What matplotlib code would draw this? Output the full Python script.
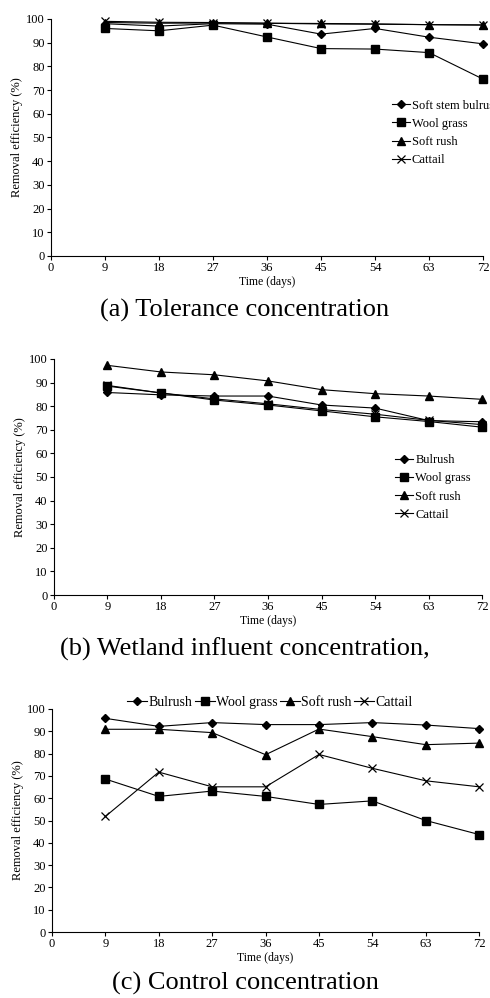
import numpy as np
import matplotlib.pyplot as plt

plt.rcParams['font.family'] = ['Liberation Serif', 'DejaVu Serif']

days = [9, 18, 27, 36, 45, 54, 63, 72]
xticks = [0, 9, 18, 27, 36, 45, 54, 63, 72]

# (a) Tolerance concentration
a_bulrush = [98.0, 97.0, 98.0, 97.8, 93.6, 96.0, 92.3, 89.5]
a_wool = [96.0, 95.0, 97.4, 92.4, 87.5, 87.3, 85.8, 74.6]
a_softrush = [98.5, 98.2, 98.3, 98.2, 98.1, 97.9, 97.6, 97.5]
a_cattail = [99.0, 98.6, 98.5, 98.2, 97.9, 97.8, 97.6, 97.4]

# (b) Wetland influent concentration
b_bulrush = [85.8, 84.8, 84.3, 84.3, 80.5, 79.2, 73.9, 73.4]
b_wool = [88.5, 85.6, 82.6, 80.5, 78.0, 75.5, 73.5, 71.1]
b_softrush = [97.3, 94.5, 93.3, 90.7, 87.0, 85.3, 84.3, 82.9]
b_cattail = [88.8, 85.6, 83.1, 81.0, 78.6, 76.6, 74.0, 72.2]

# (c) Control concentration
c_bulrush = [95.8, 92.2, 93.9, 93.0, 93.0, 93.9, 92.8, 91.2]
c_wool = [68.6, 60.8, 63.2, 60.8, 57.2, 58.8, 50.0, 43.7]
c_softrush = [90.9, 90.9, 89.4, 79.5, 91.0, 87.6, 84.0, 84.7]
c_cattail = [51.8, 71.7, 65.1, 65.1, 79.6, 73.4, 67.8, 65.1]

captions = ['(a) Tolerance concentration',
            '(b) Wetland influent concentration,',
            '(c) Control concentration']
labels_a = ['Soft stem bulrush', 'Wool grass', 'Soft rush', 'Cattail']
labels_bc = ['Bulrush', 'Wool grass', 'Soft rush', 'Cattail']

styles = [dict(marker='D', markersize=4.2),
          dict(marker='s', markersize=6.2),
          dict(marker='^', markersize=5.5),
          dict(marker='x', markersize=6, markeredgewidth=0.9)]

fig = plt.figure(figsize=(4.9, 9.98), dpi=100)

boxes = [[0.104, 0.7435, 0.882, 0.2375],
         [0.110, 0.4038, 0.874, 0.2365],
         [0.106, 0.0661, 0.872, 0.2235]]
data = [[a_bulrush, a_wool, a_softrush, a_cattail],
        [b_bulrush, b_wool, b_softrush, b_cattail],
        [c_bulrush, c_wool, c_softrush, c_cattail]]
cap_y = [0.6894, 0.3497, 0.0145]

for k in range(3):
    ax = fig.add_axes(boxes[k])
    labels = labels_a if k == 0 else labels_bc
    for series, st, lab in zip(data[k], styles, labels):
        ax.plot(days, series, color='black', linewidth=0.8, label=lab,
                clip_on=False, **st)
    ax.set_xlim(0, 72)
    ax.set_ylim(0, 100)
    ax.set_xticks(xticks)
    ax.set_yticks(np.arange(0, 101, 10))
    ax.spines['top'].set_visible(False)
    ax.spines['right'].set_visible(False)
    ax.spines['left'].set_linewidth(0.8)
    ax.spines['bottom'].set_linewidth(0.8)
    ax.tick_params(direction='out', length=3, width=0.8, labelsize=9, pad=1.5)
    ax.set_xlabel('Time (days)', fontsize=8.5, labelpad=1)
    ax.set_ylabel('Removal efficiency (%)', fontsize=9, labelpad=2)

    if k == 0:
        ax.legend(loc='upper left', bbox_to_anchor=(0.789, 0.66), frameon=False,
                  fontsize=9, handlelength=1.45, handletextpad=0.15,
                  labelspacing=0.5, borderaxespad=0, borderpad=0)
    elif k == 1:
        ax.legend(loc='upper left', bbox_to_anchor=(0.797, 0.597), frameon=False,
                  fontsize=9, handlelength=1.45, handletextpad=0.15,
                  labelspacing=0.5, borderaxespad=0, borderpad=0)
    else:
        ax.legend(loc='lower center', bbox_to_anchor=(0.51, 1.0), frameon=False,
                  fontsize=10, ncol=4, handlelength=1.45, handletextpad=0.1,
                  columnspacing=0.15, borderaxespad=0, borderpad=0)

    fig.text(0.5, cap_y[k], captions[k], ha='center', va='center', fontsize=19)

fig.savefig('out.png', dpi=100)
